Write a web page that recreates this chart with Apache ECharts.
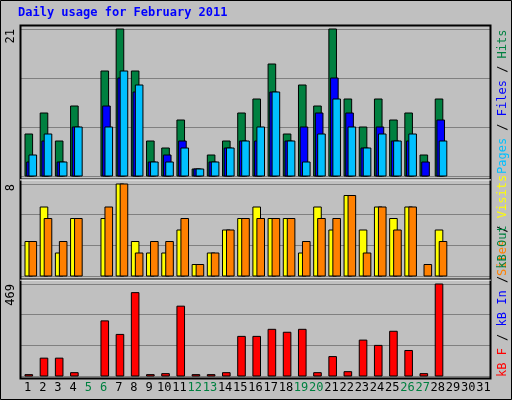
<!DOCTYPE html><html><head><meta charset="utf-8">
<script src="https://cdn.jsdelivr.net/npm/echarts@6/dist/echarts.min.js"></script>
<style>html,body{margin:0;padding:0;background:#c0c0c0}#c{width:512px;height:400px}</style></head><body><div id="c"></div><script>
const days = Array.from({length:31},(_, i)=>String(i+1));
const weekend = ['5','6','12','13','19','20','26','27'];
const hits  = [6,9,5,10,0,15,21,15,5,4,8,1,3,5,9,11,16,6,13,10,21,11,7,11,8,9,3,11,0,0,0];
const files = [2,5,2,7,0,10,14,12,2,3,5,1,2,4,5,5,12,5,7,9,14,9,4,7,5,5,2,8,0,0,0];
const pages = [3,6,2,7,0,7,15,13,2,2,4,1,2,4,5,7,12,5,2,6,11,7,4,6,5,6,0,5,0,0,0];
const visits= [3,6,2,5,0,5,8,3,2,2,4,1,2,4,5,6,5,5,2,6,4,7,4,6,5,6,0,4,0,0,0];
const sites = [3,5,3,5,0,6,8,2,3,3,5,1,2,4,5,5,5,5,3,5,5,7,2,6,4,6,1,3,0,0,0];
const kbytes= [7,91,91,17,0,281,212,425,7,12,356,7,7,17,202,202,238,223,238,17,99,22,183,156,228,130,12,469,0,0,0];
const maxTop=21, maxMid=8, maxBot=469;
const font='DejaVu Sans Mono';
function bars(name, data, grid, color, off, w){
  return {type:'custom', name, xAxisIndex:grid, yAxisIndex:grid, data:data.map((v,i)=>[i,v]),
    renderItem:(p,api)=>{
      const v=api.value(1); if(!v) return null;
      const c=api.coord([api.value(0),0]); const t=api.coord([api.value(0),v]);
      return {type:'rect',shape:{x:c[0]+off,y:t[1],width:w,height:c[1]-t[1]},
        style:{fill:color,stroke:'#000',lineWidth:1}};
    }};
}
const grids=[{left:20,width:471,top:29,height:147},{left:20,width:471,top:184,height:92},{left:20,width:471,top:284,height:92}];
const maxes=[maxTop,maxMid,maxBot];
const chart=echarts.init(document.getElementById('c'));
chart.setOption({
  backgroundColor:'#c0c0c0', animation:false,
  grid:grids,
  xAxis:grids.map((g,i)=>({type:'category',gridIndex:i,data:days.map(d=>({value:d,textStyle:{color:weekend.includes(d)?'#008040':'#000'}})),
    axisLine:{show:false},axisTick:{show:false},
    axisLabel:{show:i===2,fontFamily:font,fontSize:12,margin:6,interval:0}})),
  yAxis:maxes.map((m,i)=>({type:'value',gridIndex:i,min:0,max:m,interval:m/3,
    axisLine:{show:false},axisTick:{show:false},
    splitLine:{lineStyle:{color:'#808080',width:1}},
    axisLabel:{rotate:90,fontFamily:font,fontSize:12,color:'#000',margin:3,verticalAlign:'bottom',align:'right',
      formatter:v=>v===m?String(m):''}})),
  graphic:[
    {type:'rect',shape:{x:0.5,y:0.5,width:511,height:399},style:{fill:null,stroke:'#000',lineWidth:1},z:-1},
    {type:'rect',shape:{x:20.5,y:25.5,width:470,height:353},style:{fill:null,stroke:'#000',lineWidth:2},z:5},
    {type:'line',shape:{x1:20,y1:179,x2:491,y2:179},style:{stroke:'#000',lineWidth:1},z:5},
    {type:'line',shape:{x1:20,y1:280,x2:491,y2:280},style:{stroke:'#fff',lineWidth:1},z:5},
    {type:'line',shape:{x1:20,y1:179.9,x2:491,y2:179.9},style:{stroke:'#fff',lineWidth:1},z:5},
    {type:'line',shape:{x1:20,y1:279,x2:491,y2:279},style:{stroke:'#000',lineWidth:1},z:5},
    {type:'text',left:18,top:7,style:{text:'Daily usage for February 2011',fill:'#0000ff',font:'bold 12px '+font}},
    {type:'text',x:497,y:174,rotation:Math.PI/2,style:{text:'{p|Pages} / {f|Files} / {h|Hits}',font:'12px '+font,fill:'#000',
      rich:{p:{fill:'#00c0ff',font:'12px '+font},f:{fill:'#0000ff',font:'12px '+font},h:{fill:'#008040',font:'12px '+font}}}},
    {type:'text',x:497,y:276,rotation:Math.PI/2,style:{text:'{s|Sites} / {v|Visits}',font:'12px '+font,fill:'#000',
      rich:{s:{fill:'#ff8000',font:'12px '+font},v:{fill:'#ffff00',font:'12px '+font}}}},
    {type:'text',x:497,y:377,rotation:Math.PI/2,style:{text:'{r|kB F} / {b|kB In} / {g|kB Out}',font:'12px '+font,fill:'#000',
      rich:{r:{fill:'#ff0000',font:'12px '+font},b:{fill:'#0000ff',font:'12px '+font},g:{fill:'#008040',font:'12px '+font}}}}
  ],
  series:[
    bars('Hits',hits,0,'#008040',-2.6,7.6),
    bars('Files',files,0,'#0000ff',-0.9,7.6),
    bars('Pages',pages,0,'#00c0ff',1.4,7.6),
    bars('Visits',visits,1,'#ffff00',-2.6,7.6),
    bars('Sites',sites,1,'#ff8000',1.4,7.6),
    bars('kB F',kbytes,2,'#ff0000',-2.6,7.6)
  ]
});
</script></body></html>
